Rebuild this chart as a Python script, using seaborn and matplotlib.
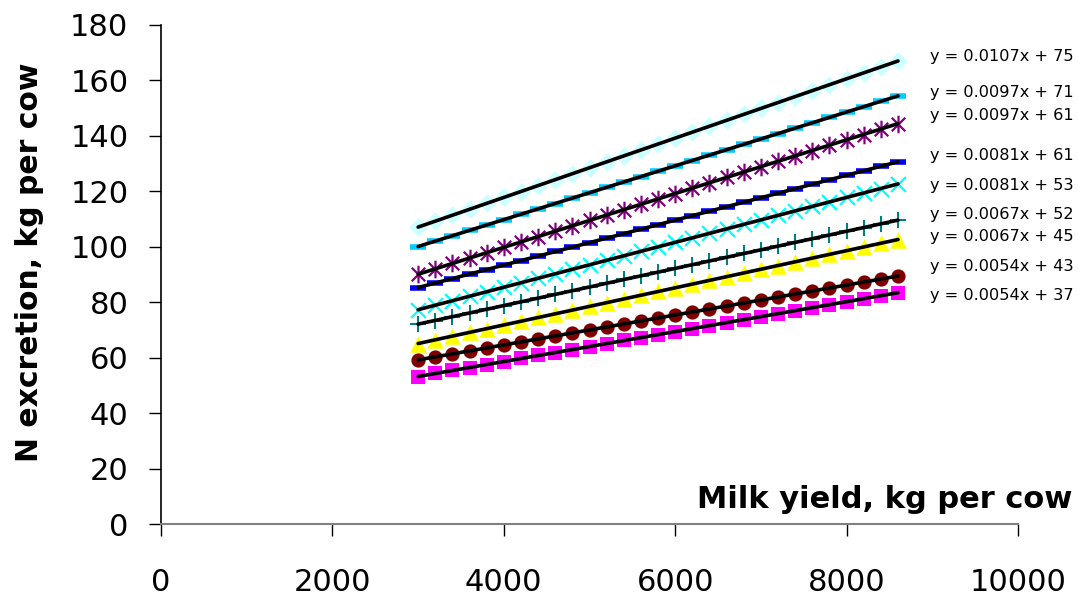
import matplotlib
matplotlib.use("Agg")
import matplotlib.pyplot as plt
import seaborn as sns
import pandas as pd
from matplotlib.path import Path

# milk yield (kg per cow) shared by all series
milk_yield = [3000, 3200, 3400, 3600, 3800, 4000, 4200, 4400, 4600, 4800,
              5000, 5200, 5400, 5600, 5800, 6000, 6200, 6400, 6600, 6800,
              7000, 7200, 7400, 7600, 7800, 8000, 8200, 8400, 8600]

# N excretion per series, kg per cow (top to bottom)
s1 = [107.1, 109.2, 111.4, 113.5, 115.7, 117.8, 119.9, 122.1, 124.2, 126.4,
      128.5, 130.6, 132.8, 134.9, 137.1, 139.2, 141.3, 143.5, 145.6, 147.8,
      149.9, 152.0, 154.2, 156.3, 158.5, 160.6, 162.7, 164.9, 167.0]
s2 = [100.1, 102.0, 104.0, 105.9, 107.9, 109.8, 111.7, 113.7, 115.6, 117.6,
      119.5, 121.4, 123.4, 125.3, 127.3, 129.2, 131.1, 133.1, 135.0, 137.0,
      138.9, 140.8, 142.8, 144.7, 146.7, 148.6, 150.5, 152.5, 154.4]
s3 = [90.1, 92.0, 94.0, 95.9, 97.9, 99.8, 101.7, 103.7, 105.6, 107.6,
      109.5, 111.4, 113.4, 115.3, 117.3, 119.2, 121.1, 123.1, 125.0, 127.0,
      128.9, 130.8, 132.8, 134.7, 136.7, 138.6, 140.5, 142.5, 144.4]
s4 = [85.3, 86.9, 88.5, 90.2, 91.8, 93.4, 95.0, 96.6, 98.3, 99.9,
      101.5, 103.1, 104.7, 106.4, 108.0, 109.6, 111.2, 112.8, 114.5, 116.1,
      117.7, 119.3, 120.9, 122.6, 124.2, 125.8, 127.4, 129.0, 130.7]
s5 = [77.3, 78.9, 80.5, 82.2, 83.8, 85.4, 87.0, 88.6, 90.3, 91.9,
      93.5, 95.1, 96.7, 98.4, 100.0, 101.6, 103.2, 104.8, 106.5, 108.1,
      109.7, 111.3, 112.9, 114.6, 116.2, 117.8, 119.4, 121.0, 122.7]
s6 = [72.1, 73.4, 74.8, 76.1, 77.5, 78.8, 80.1, 81.5, 82.8, 84.2,
      85.5, 86.8, 88.2, 89.5, 90.9, 92.2, 93.5, 94.9, 96.2, 97.6,
      98.9, 100.2, 101.6, 102.9, 104.3, 105.6, 106.9, 108.3, 109.6]
s7 = [65.1, 66.4, 67.8, 69.1, 70.5, 71.8, 73.1, 74.5, 75.8, 77.2,
      78.5, 79.8, 81.2, 82.5, 83.9, 85.2, 86.5, 87.9, 89.2, 90.6,
      91.9, 93.2, 94.6, 95.9, 97.3, 98.6, 99.9, 101.3, 102.6]
s8 = [59.2, 60.3, 61.4, 62.4, 63.5, 64.6, 65.7, 66.8, 67.8, 68.9,
      70.0, 71.1, 72.2, 73.2, 74.3, 75.4, 76.5, 77.6, 78.6, 79.7,
      80.8, 81.9, 83.0, 84.0, 85.1, 86.2, 87.3, 88.4, 89.4]
s9 = [53.2, 54.3, 55.4, 56.4, 57.5, 58.6, 59.7, 60.8, 61.8, 62.9,
      64.0, 65.1, 66.2, 67.2, 68.3, 69.4, 70.5, 71.6, 72.6, 73.7,
      74.8, 75.9, 77.0, 78.0, 79.1, 80.2, 81.3, 82.4, 83.4]

series = [s1, s2, s3, s4, s5, s6, s7, s8, s9]

equations = ["y = 0.0107x + 75", "y = 0.0097x + 71", "y = 0.0097x + 61",
             "y = 0.0081x + 61", "y = 0.0081x + 53", "y = 0.0067x + 52",
             "y = 0.0067x + 45", "y = 0.0054x + 43", "y = 0.0054x + 37"]

# styling (Excel-like markers)
asterisk = Path([(-1, -1), (1, 1), (-1, 1), (1, -1), (0, -1.3), (0, 1.3)],
                [Path.MOVETO, Path.LINETO, Path.MOVETO, Path.LINETO, Path.MOVETO, Path.LINETO])
styles = [
    dict(marker="D", color="#ccffff", s=90, lw=0),
    dict(marker="_", color="#00ccff", s=120, lw=4),
    dict(marker=asterisk, color="#800080", s=160, lw=1.6),
    dict(marker="_", color="#0000ff", s=120, lw=4),
    dict(marker="x", color="#00ffff", s=115, lw=1.6),
    dict(marker="+", color="#008080", s=130, lw=1.5),
    dict(marker="^", color="#ffff00", s=140, lw=0),
    dict(marker="o", color="#800000", s=105, lw=0),
    dict(marker="s", color="#ff00ff", s=90, lw=0),
]
label_y = [168.8, 155.6, 147.5, 132.8, 122.0, 111.8, 103.6, 92.8, 82.6]

sns.set_theme(style="white")
plt.rcParams["font.family"] = ["DejaVu Sans"]
for k in ["text.color", "axes.labelcolor", "xtick.color", "ytick.color"]:
    plt.rcParams[k] = "black"

fig = plt.figure(figsize=(10.78, 5.99), dpi=100)
ax = fig.add_axes([161 / 1078, 1 - 524 / 599, (1018 - 161) / 1078, (524 - 25) / 599])

for ys, st in zip(series, styles):
    df = pd.DataFrame({"x": milk_yield, "y": ys})
    sns.scatterplot(data=df, x="x", y="y", marker=st["marker"], color=st["color"],
                    s=st["s"], linewidth=st["lw"], edgecolor=st["color"], ax=ax, zorder=3)

# linear trendlines on top of the markers
for ys in series:
    df = pd.DataFrame({"x": milk_yield, "y": ys})
    sns.regplot(data=df, x="x", y="y", scatter=False, ci=None, truncate=True,
                color="black", line_kws=dict(lw=2.6, zorder=4), ax=ax)

for eq, yy in zip(equations, label_y):
    ax.text(8973, yy, eq, fontsize=11.6, ha="left", va="center", clip_on=False)

ax.set_xlim(0, 10000)
ax.set_ylim(0, 180)
ax.set_xticks(range(0, 10001, 2000))
ax.set_yticks(range(0, 181, 20))
ax.set_xlabel("")
ax.set_ylabel("")

for side in ["top", "right"]:
    ax.spines[side].set_visible(False)
ax.spines["left"].set_color("black")
ax.spines["left"].set_linewidth(1.2)
ax.spines["bottom"].set_color("#808080")
ax.spines["bottom"].set_linewidth(1.5)

ax.tick_params(axis="both", direction="out", length=8.5, width=1, color="black",
               labelsize=22, bottom=True, left=True)
ax.tick_params(axis="y", pad=15)
ax.tick_params(axis="x", pad=23)

fig.text(1072 / 1078, 1 - 500 / 599, "Milk yield, kg per cow", fontsize=22,
         fontweight="bold", ha="right", va="center")
fig.text(30 / 1078, 1 - 262 / 599, "N excretion, kg per cow", fontsize=21.5,
         fontweight="bold", rotation=90, ha="center", va="center")

fig.savefig("out.png", dpi=100, facecolor="white")
